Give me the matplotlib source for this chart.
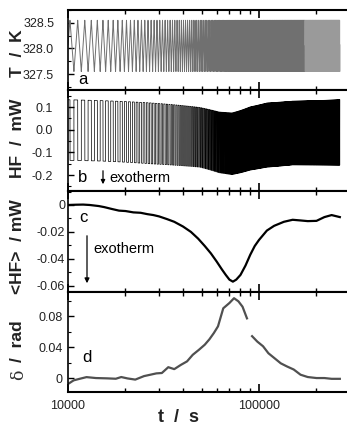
import numpy as np
import matplotlib
matplotlib.use("Agg")
import matplotlib.pyplot as plt
from matplotlib.ticker import MultipleLocator, FormatStrFormatter, LogLocator, NullFormatter, FixedFormatter, FixedLocator

plt.rcParams['font.family'] = ['Liberation Sans', 'DejaVu Sans']
plt.rcParams['axes.unicode_minus'] = False

# modulation: triangle between these limits, period in s
t_start, t_end = 10000, 265000
period = 1000
t_first_peak = 10240
T_high, T_low = 328.55, 327.55
t_colour_change = 174000

# HF envelope (panel b)
env_t = [10000, 15000, 27000, 49000, 62000, 72000, 80000, 90000, 110000, 150000, 265000]
env_up = [0.132, 0.128, 0.118, 0.098, 0.078, 0.074, 0.085, 0.101, 0.118, 0.126, 0.132]
env_lo = [-0.135, -0.138, -0.15, -0.165, -0.19, -0.198, -0.19, -0.178, -0.165, -0.155, -0.156]

# mean heat flow <HF> (panel c)
c_t = [10000, 11000, 12000, 13000, 14500, 15500, 17000, 18500, 20000, 22000, 24000,
       26000, 28000, 30000, 33000, 36000, 40000, 44000, 48000, 52000, 56000, 60000,
       64000, 67000, 70000, 73000, 76000, 80000, 85000, 90000, 95000, 100000,
       110000, 120000, 135000, 150000, 165000, 180000, 200000, 220000, 240000, 265000]
c_hf = [0.0, 0.0002, 0.0003, 0.0, -0.0008, -0.0016, -0.003, -0.0042, -0.0045, -0.0055,
        -0.0058, -0.0068, -0.0075, -0.0085, -0.0105, -0.0125, -0.016, -0.02, -0.025,
        -0.0305, -0.036, -0.042, -0.048, -0.052, -0.0555, -0.057, -0.0555, -0.052,
        -0.045, -0.037, -0.0305, -0.026, -0.019, -0.0155, -0.0125, -0.011, -0.0115,
        -0.012, -0.0118, -0.009, -0.0075, -0.009]

# phase angle delta (panel d), two segments
d1_t = [10000, 10700, 11500, 12500, 14000, 16000, 17800, 19000, 20500, 22500, 25000,
        27000, 29000, 31000, 33500, 36000, 39000, 42000, 45000, 48500, 52000, 55000,
        58000, 61000, 65000, 70000, 74000, 78000, 82000, 86500]
d1_v = [-0.0077, -0.003, -0.001, 0.0012, 0.0, -0.0004, -0.0009, 0.0013, -0.0005,
        -0.002, 0.0025, 0.0043, 0.006, 0.0065, 0.014, 0.0115, 0.017, 0.0215, 0.03,
        0.0365, 0.043, 0.05, 0.058, 0.0667, 0.09, 0.0968, 0.103, 0.099, 0.092, 0.077]
d2_t = [92000, 98000, 105000, 112000, 120000, 130000, 140000, 152000, 165000, 180000,
        200000, 220000, 240000, 265000]
d2_v = [0.054, 0.047, 0.041, 0.032, 0.026, 0.019, 0.015, 0.011, 0.0043, 0.0013,
        0.0, 0.0, -0.001, -0.001]

# build the modulated signals
t = np.linspace(t_start, t_end, 260000)
phase = ((t - t_first_peak) / period) % 1.0
tri = np.where(phase < 0.5, 1 - 4 * phase, -1 + 4 * (phase - 0.5))
T = 0.5 * (T_high + T_low) + 0.5 * (T_high - T_low) * tri
up = np.interp(t, env_t, env_up)
lo = np.interp(t, env_t, env_lo)
hf = np.where(phase < 0.5, lo, up)

fig = plt.figure(figsize=(3.47, 4.25), dpi=100)
W, H = 347.0, 425.0
left = 68 / W
width = (360 - 68) / W
bounds = [(10, 90), (90, 191), (191, 292), (292, 392)]
ypads = [10, 11, 2, 4]
axes = []
for top, bot in bounds:
    ax = fig.add_axes([left, 1 - bot / H, width, (bot - top) / H])
    axes.append(ax)

for ax, pad in zip(axes, ypads):
    ax.set_xscale('log')
    ax.set_xlim(10000, 10 ** (4 + 292 / 191))
    ax.xaxis.set_major_locator(FixedLocator([10000, 100000]))
    ax.xaxis.set_minor_locator(LogLocator(base=10, subs=np.arange(2, 10)))
    ax.xaxis.set_minor_formatter(NullFormatter())
    ax.tick_params(axis='both', which='both', direction='in', top=True, right=False,
                   labelsize=9, labelcolor='#222222')
    ax.tick_params(axis='x', which='major', length=6, width=1.2)
    ax.tick_params(axis='x', which='minor', length=3, width=1.0)
    ax.tick_params(axis='y', which='major', length=4, width=1.0, pad=pad)
    ax.tick_params(axis='y', which='minor', length=2, width=0.8)
    ax.spines['right'].set_visible(False)
    for s in ['top', 'bottom']:
        ax.spines[s].set_linewidth(1.5)
    ax.spines['left'].set_linewidth(1.2)
    if ax is not axes[-1]:
        ax.tick_params(axis='x', labelbottom=False)

ax = axes[0]
m = t < t_colour_change
ax.plot(t[m], T[m], color='#707070', lw=0.7)
ax.plot(t[~m], T[~m], color='#9a9a9a', lw=0.7)
ax.set_ylim(327.19, 328.75)
ax.yaxis.set_major_locator(MultipleLocator(0.5))
ax.yaxis.set_minor_locator(MultipleLocator(0.25))
ax.yaxis.set_major_formatter(FormatStrFormatter('%.1f'))

ax = axes[1]
ax.plot(t, hf, color='black', lw=0.5)
ax.set_ylim(-0.27, 0.175)
ax.yaxis.set_major_locator(MultipleLocator(0.1))
ax.yaxis.set_minor_locator(MultipleLocator(0.05))
ax.yaxis.set_major_formatter(FormatStrFormatter('%.1f'))

ax = axes[2]
ax.plot(c_t, c_hf, color='black', lw=1.6)
ax.set_ylim(-0.0647, 0.0104)
ax.yaxis.set_major_locator(FixedLocator([0, -0.02, -0.04, -0.06]))
ax.yaxis.set_major_formatter(FixedFormatter(['0', '-0.02', '-0.04', '-0.06']))
ax.yaxis.set_minor_locator(MultipleLocator(0.01))

ax = axes[3]
ax.plot(d1_t, d1_v, color='#505050', lw=1.6)
ax.plot(d2_t, d2_v, color='#505050', lw=1.6)
ax.set_ylim(-0.018, 0.111)
ax.yaxis.set_major_locator(FixedLocator([0, 0.04, 0.08]))
ax.yaxis.set_major_formatter(FixedFormatter(['0', '0.04', '0.08']))
ax.yaxis.set_minor_locator(MultipleLocator(0.02))
ax.xaxis.set_major_formatter(FixedFormatter(['10000', '100000']))
ax.tick_params(axis='x', pad=6)


def fx(x):
    return x / W


def fy(y):
    return 1 - y / H


lab = dict(fontsize=12.5, fontweight='bold', rotation=90, ha='center', va='center', color='#222222')
fig.text(fx(18), fy(53), 'T  /  K', **lab)
fig.text(fx(18), fy(138), 'HF  /  mW', **lab)
fig.text(fx(18), fy(247), '<HF>  / mW', **lab)
fig.text(fx(18), fy(341), '/  rad', **lab)
fig.text(fx(19), fy(375), 'δ', fontsize=12.5, family='DejaVu Serif', rotation=90,
         ha='center', va='center', color='#333333')
fig.text(fx(178), fy(417), 't  /  s', fontsize=13, fontweight='bold', ha='center', va='center', color='#222222')

small = dict(fontsize=12, ha='center', va='center', color='black')
fig.text(fx(83), fy(80), 'a', **small)
fig.text(fx(83), fy(177), 'b', **small)
fig.text(fx(83), fy(218), 'c', **small)
fig.text(fx(87), fy(358), 'd', **small)

fig.text(fx(109), fy(178), 'exotherm', fontsize=10.5, ha='left', va='center')
fig.patches.append(matplotlib.patches.FancyArrowPatch(
    (fx(103), fy(168)), (fx(103), fy(187)), transform=fig.transFigure,
    arrowstyle='-|>', mutation_scale=6, lw=0.9, color='black'))
fig.text(fx(93), fy(249), 'exotherm', fontsize=10.5, ha='left', va='center')
fig.patches.append(matplotlib.patches.FancyArrowPatch(
    (fx(87), fy(233)), (fx(87), fy(286)), transform=fig.transFigure,
    arrowstyle='-|>', mutation_scale=7, lw=0.9, color='black'))

fig.savefig('out.png', dpi=100)
